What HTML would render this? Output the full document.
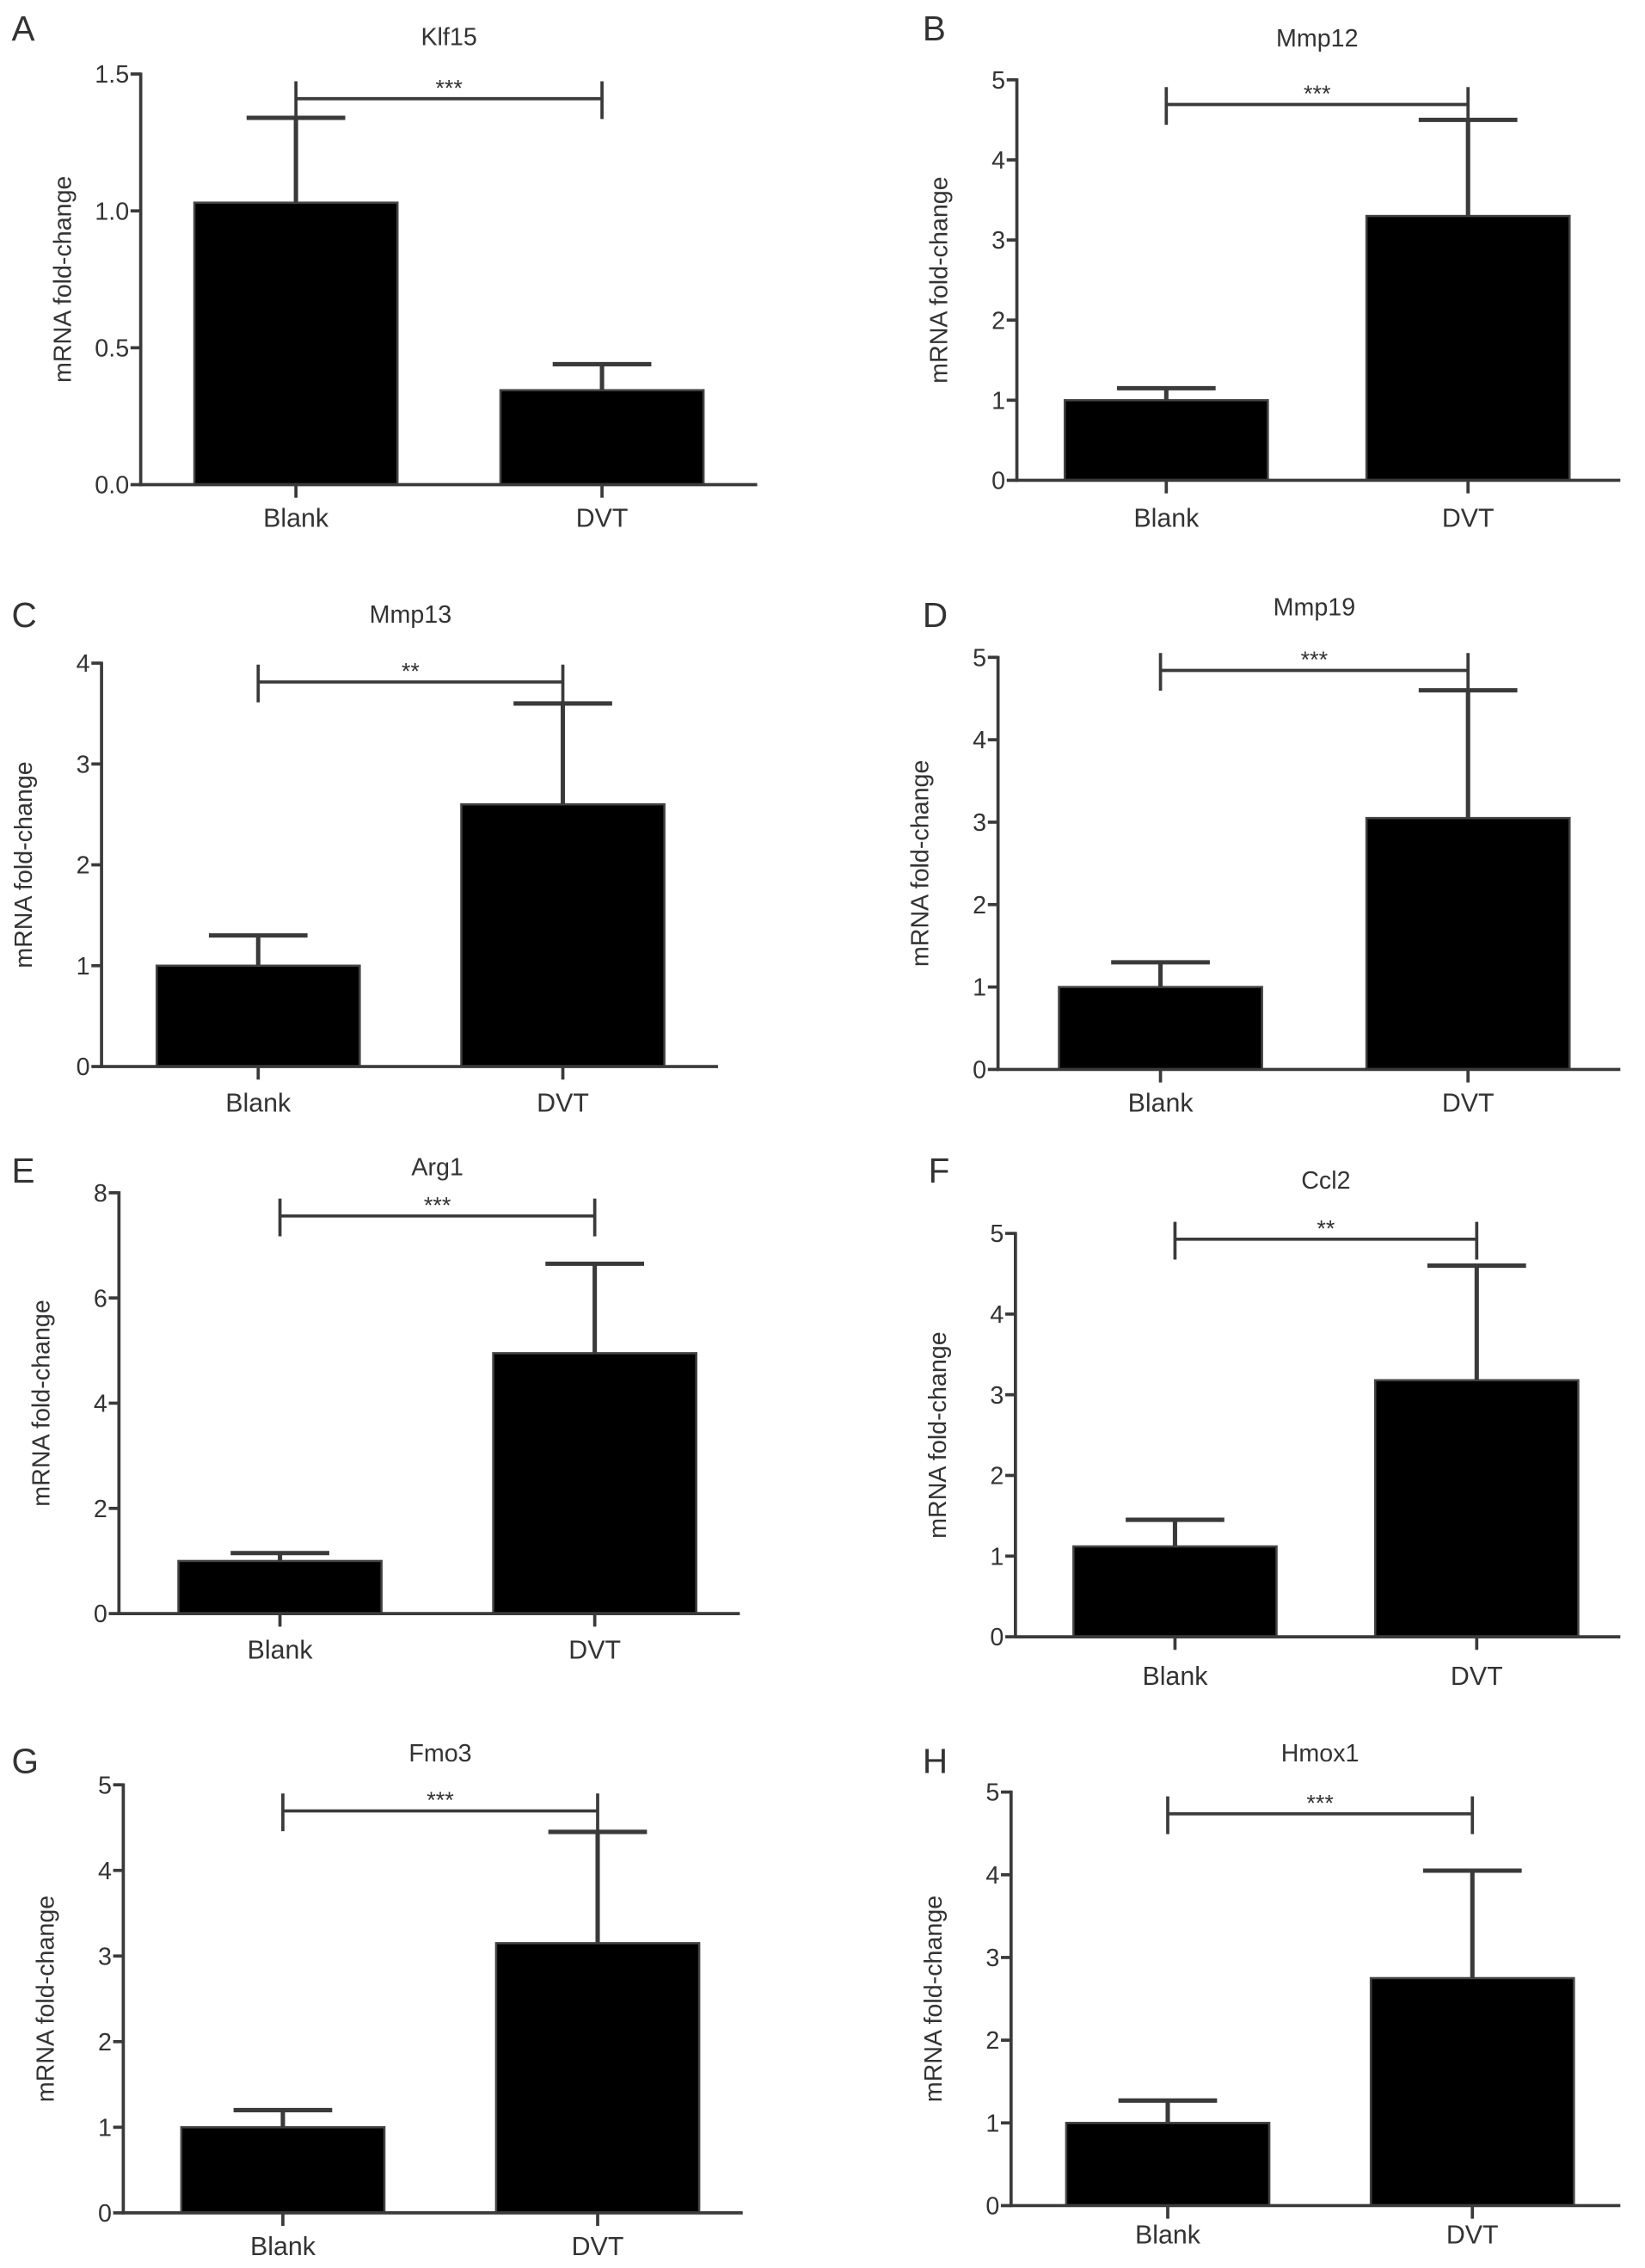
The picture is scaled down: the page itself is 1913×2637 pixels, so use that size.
<!DOCTYPE html>
<html><head><meta charset="utf-8"><style>
html,body{margin:0;padding:0;background:#fff;}
svg{display:block;}
text{font-family:"Liberation Sans",sans-serif;fill:#333;}
</style></head><body>
<svg id="fig" width="1913" height="2637" viewBox="0 0 1134 1563" preserveAspectRatio="none" xmlns="http://www.w3.org/2000/svg"></svg>
<script>
const panelLetters=["A","B","C","D","E","F","G","H"];
const panelTitles=["Klf15","Mmp12","Mmp13","Mmp19","Arg1","Ccl2","Fmo3","Hmox1"];
const categories=["Blank","DVT"];
const meanValues=[[1.03,0.345],[1.0,3.3],[1.0,2.6],[1.0,3.05],[1.0,4.95],[1.12,3.18],[1.0,3.15],[1.0,2.75]];
const errorValues=[[1.34,0.44],[1.15,4.5],[1.3,3.6],[1.3,4.6],[1.15,6.65],[1.45,4.6],[1.2,4.45],[1.27,4.05]];
const yMaxValues=[1.5,5,4,5,8,5,5,5];
const tickLabels=[["0.0","0.5","1.0","1.5"],["0","1","2","3","4","5"],["0","1","2","3","4"],["0","1","2","3","4","5"],["0","2","4","6","8"],["0","1","2","3","4","5"],["0","1","2","3","4","5"],["0","1","2","3","4","5"]];
const significance=["***","***","**","***","***","**","***","***"];
// layout (not data)
const layout=[
 {ax:97,top:51,bot:334,c:[204,415],end:522,br:68,lx:8,ly:28,ty:31,xl:363},
 {ax:701,top:55,bot:331,c:[804,1012],end:1117,br:72,lx:636,ly:28,ty:32,xl:363},
 {ax:70,top:457,bot:735,c:[178,388],end:495,br:470,lx:8,ly:432,ty:429,xl:766},
 {ax:688,top:453,bot:737,c:[800,1012],end:1117,br:462,lx:636,ly:432,ty:424,xl:766},
 {ax:82,top:822,bot:1112,c:[193,410],end:510,br:838,lx:8,ly:815,ty:810,xl:1143},
 {ax:700,top:850,bot:1128,c:[810,1018],end:1117,br:854,lx:640,ly:815,ty:819,xl:1161},
 {ax:85,top:1230,bot:1525,c:[195,412],end:512,br:1248,lx:8,ly:1222,ty:1214,xl:1554},
 {ax:697,top:1235,bot:1520,c:[805,1015],end:1117,br:1250,lx:636,ly:1222,ty:1214,xl:1546}
];
const NS="http://www.w3.org/2000/svg";
const svg=document.getElementById('fig');
function mk(tag,attrs,parent){const e=document.createElementNS(NS,tag);for(const k in attrs)e.setAttribute(k,attrs[k]);(parent||svg).appendChild(e);return e;}
const BW=140,CAP=34,LC="#3a3a3a",LW=2.2;
panelLetters.forEach((L,i)=>{
 const p=layout[i];
 const g=mk('g',{});
 
 
 const y=v=>p.bot-(v/yMaxValues[i])*(p.bot-p.top);
 const xc=j=>p.c[j];
 let t=mk('text',{x:p.lx,y:p.ly,'font-size':24},g);t.textContent=L;
 
 t=mk('text',{x:(p.c[0]+p.c[1])/2,y:p.ty,'font-size':17,'text-anchor':'middle'},g);t.textContent=panelTitles[i];
 
 t=mk('text',{x:0,y:0,'font-size':17,'text-anchor':'middle',transform:`translate(${p.ax-48},${(p.top+p.bot)/2}) rotate(-90)`},g);t.textContent="mRNA fold-change";
 
 categories.forEach((c,j)=>{
  const r=mk('rect',{x:xc(j)-BW/2,y:y(meanValues[i][j]),width:BW,height:p.bot-y(meanValues[i][j]),fill:'#000',stroke:'#444','stroke-width':1.5},g);
  
  const e=mk('path',{d:`M${xc(j)} ${y(meanValues[i][j])}V${y(errorValues[i][j])}M${xc(j)-CAP} ${y(errorValues[i][j])}H${xc(j)+CAP}`,stroke:LC,'stroke-width':LW+0.8,fill:'none'},g);
  
  const tk=mk('line',{x1:xc(j),x2:xc(j),y1:p.bot,y2:p.bot+9,stroke:LC,'stroke-width':LW},g);
  
  const lb=mk('text',{x:xc(j),y:p.xl,'font-size':18,'text-anchor':'middle'},g);lb.textContent=c;
  
 });
 let a=mk('line',{x1:p.ax,x2:p.ax,y1:p.top-1,y2:p.bot+1,stroke:LC,'stroke-width':LW},g);
 
 a=mk('line',{x1:p.ax-1,x2:p.end,y1:p.bot,y2:p.bot,stroke:LC,'stroke-width':LW},g);
 
 const n=tickLabels[i].length;
 tickLabels[i].forEach((lab,k)=>{
  const v=yMaxValues[i]*k/(n-1);
  const tk=mk('line',{x1:p.ax-7,x2:p.ax,y1:y(v),y2:y(v),stroke:LC,'stroke-width':LW},g);
  
  const tl=mk('text',{x:p.ax-8,y:y(v)+6,'font-size':17,'text-anchor':'end'},g);tl.textContent=lab;
  
 });
 const b=mk('path',{d:`M${xc(0)} ${p.br-12}V${p.br+14}M${xc(0)} ${p.br}H${xc(1)}M${xc(1)} ${p.br-12}V${p.br+14}`,stroke:LC,'stroke-width':LW,fill:'none'},g);
 
 t=mk('text',{x:(xc(0)+xc(1))/2,y:p.br-2,'font-size':16,'text-anchor':'middle'},g);t.textContent=significance[i];
 
});
</script>
</body></html>
